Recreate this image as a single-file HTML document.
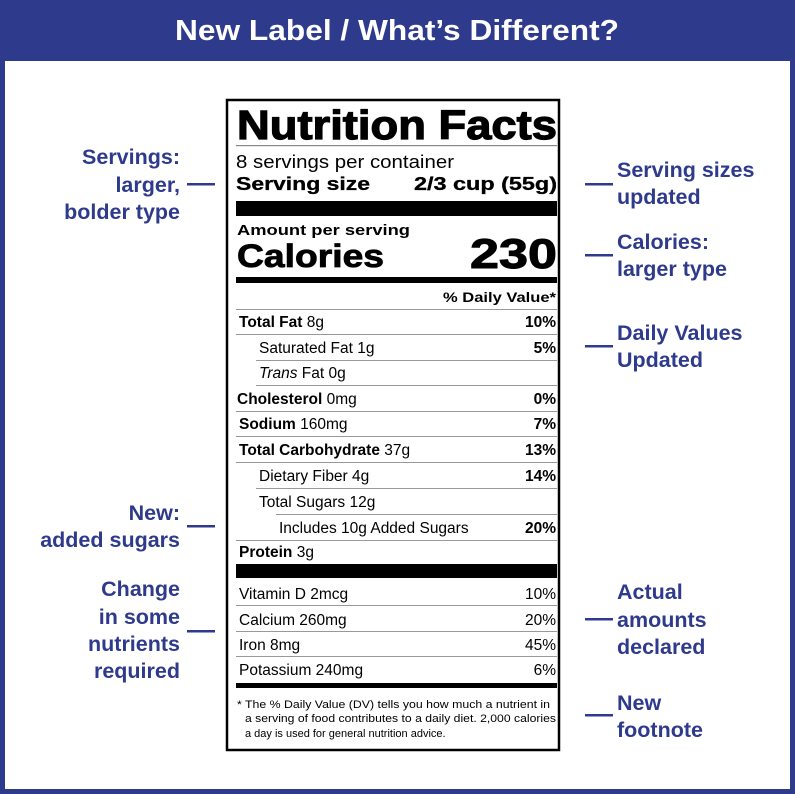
<!DOCTYPE html>
<html><head><meta charset="utf-8"><style>
html,body{margin:0;padding:0;background:#fff}
svg{display:block}
text{font-family:"Liberation Sans",Arial,sans-serif}
.b{font-weight:bold}
.a{fill:#2e3a8c;font-weight:bold;font-size:21.5px}
</style></head><body>
<svg width="795" height="794" viewBox="0 0 795 794" xmlns="http://www.w3.org/2000/svg">
<rect x="0" y="0" width="795" height="794" fill="#2e3a8c"/>
<rect x="5" y="61" width="785" height="728" fill="#fff"/>
<text x="397" y="40" text-anchor="middle" class="b" font-size="29" fill="#fff" textLength="444" lengthAdjust="spacingAndGlyphs">New Label / What’s Different?</text>

<rect x="227" y="100" width="332" height="650" fill="#fff" stroke="#000" stroke-width="2.5"/>
<text x="237" y="139" class="b" font-size="41" stroke="#000" stroke-width="1.2" textLength="320" lengthAdjust="spacingAndGlyphs">Nutrition Facts</text>
<rect x="236" y="145" width="321" height="1.2" fill="#888"/>
<text x="236" y="168" font-size="18" textLength="218" lengthAdjust="spacingAndGlyphs">8 servings per container</text>
<text x="236" y="190" class="b" font-size="18" stroke="#000" stroke-width="0.3" textLength="134" lengthAdjust="spacingAndGlyphs">Serving size</text>
<text x="557" y="190" class="b" font-size="18" stroke="#000" stroke-width="0.3" text-anchor="end" textLength="143" lengthAdjust="spacingAndGlyphs">2/3 cup (55g)</text>
<rect x="236" y="201" width="321" height="15" fill="#000"/>
<text x="237" y="235" class="b" font-size="14.5" textLength="173" lengthAdjust="spacingAndGlyphs">Amount per serving</text>
<text x="237" y="267" class="b" font-size="32" stroke="#000" stroke-width="0.8" textLength="147" lengthAdjust="spacingAndGlyphs">Calories</text>
<text x="557" y="268" class="b" font-size="42" stroke="#000" stroke-width="1" text-anchor="end" textLength="87" lengthAdjust="spacingAndGlyphs">230</text>
<rect x="236" y="277" width="321" height="6" fill="#000"/>
<text x="556" y="302" class="b" font-size="13.5" text-anchor="end" textLength="113" lengthAdjust="spacingAndGlyphs">% Daily Value*</text>
<g fill="#999">
<rect x="236" y="309" width="321" height="1"/>
<rect x="236" y="334" width="321" height="1"/>
<rect x="256" y="360" width="301" height="1"/>
<rect x="256" y="385" width="301" height="1"/>
<rect x="236" y="411" width="321" height="1"/>
<rect x="236" y="436" width="321" height="1"/>
<rect x="236" y="462" width="321" height="1"/>
<rect x="256" y="488" width="301" height="1"/>
<rect x="276" y="514" width="281" height="1"/>
<rect x="236" y="540" width="321" height="1"/>
<rect x="236" y="605" width="321" height="1"/>
<rect x="236" y="631" width="321" height="1"/>
<rect x="236" y="656" width="321" height="1"/>
</g>
<g font-size="15.5">
<text x="239" y="327"><tspan class="b">Total Fat</tspan> 8g</text>
<text x="556" y="327" class="b" text-anchor="end">10%</text>
<text x="259" y="353">Saturated Fat 1g</text>
<text x="556" y="353" class="b" text-anchor="end">5%</text>
<text x="259" y="378"><tspan font-style="italic">Trans</tspan> Fat 0g</text>
<text x="237" y="404"><tspan class="b">Cholesterol</tspan> 0mg</text>
<text x="556" y="404" class="b" text-anchor="end">0%</text>
<text x="239" y="429"><tspan class="b">Sodium</tspan> 160mg</text>
<text x="556" y="429" class="b" text-anchor="end">7%</text>
<text x="239" y="455"><tspan class="b">Total Carbohydrate</tspan> 37g</text>
<text x="556" y="455" class="b" text-anchor="end">13%</text>
<text x="259" y="481">Dietary Fiber 4g</text>
<text x="556" y="481" class="b" text-anchor="end">14%</text>
<text x="259" y="507">Total Sugars 12g</text>
<text x="279" y="533">Includes 10g Added Sugars</text>
<text x="556" y="533" class="b" text-anchor="end">20%</text>
<text x="239" y="557"><tspan class="b">Protein</tspan> 3g</text>
<text x="239" y="599">Vitamin D 2mcg</text>
<text x="556" y="599" text-anchor="end">10%</text>
<text x="239" y="625">Calcium 260mg</text>
<text x="556" y="625" text-anchor="end">20%</text>
<text x="239" y="650">Iron 8mg</text>
<text x="556" y="650" text-anchor="end">45%</text>
<text x="239" y="675">Potassium 240mg</text>
<text x="556" y="675" text-anchor="end">6%</text>
</g>
<rect x="236" y="564" width="321" height="14" fill="#000"/>
<rect x="236" y="683" width="321" height="5" fill="#000"/>
<g font-size="11">
<text x="237" y="708" textLength="313" lengthAdjust="spacingAndGlyphs">* The % Daily Value (DV) tells you how much a nutrient in</text>
<text x="245" y="722" textLength="311" lengthAdjust="spacingAndGlyphs">a serving of food contributes to a daily diet. 2,000 calories</text>
<text x="245" y="737">a day is used for general nutrition advice.</text>
</g>

<g fill="#2e3a8c">
<rect x="187" y="183" width="28" height="2.5"/>
<rect x="585" y="183" width="28" height="2.5"/>
<rect x="585" y="254" width="28" height="2.5"/>
<rect x="585" y="345" width="28" height="2.5"/>
<rect x="187" y="525" width="28" height="2.5"/>
<rect x="187" y="630" width="28" height="2.5"/>
<rect x="585" y="618" width="28" height="2.5"/>
<rect x="585" y="714" width="28" height="2.5"/>
</g>
<g class="a" text-anchor="end">
<text x="180" y="164">Servings:</text>
<text x="180" y="192">larger,</text>
<text x="180" y="219">bolder type</text>
<text x="180" y="520">New:</text>
<text x="180" y="547">added sugars</text>
<text x="180" y="596">Change</text>
<text x="180" y="624">in some</text>
<text x="180" y="651">nutrients</text>
<text x="180" y="678">required</text>
</g>
<g class="a">
<text x="617" y="177">Serving sizes</text>
<text x="617" y="204">updated</text>
<text x="617" y="249">Calories:</text>
<text x="617" y="276">larger type</text>
<text x="617" y="340">Daily Values</text>
<text x="617" y="367">Updated</text>
<text x="617" y="599">Actual</text>
<text x="617" y="627">amounts</text>
<text x="617" y="654">declared</text>
<text x="617" y="710">New</text>
<text x="617" y="737">footnote</text>
</g>
</svg>
</body></html>
